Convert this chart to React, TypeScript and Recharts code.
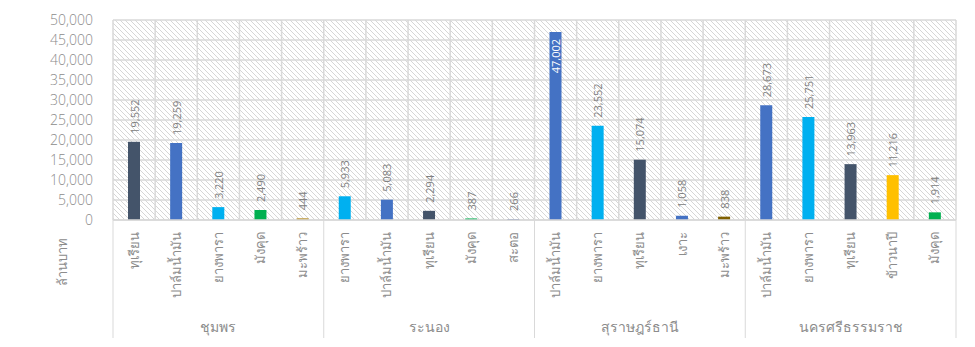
import { Bar, BarChart, CartesianGrid, Cell, LabelList, XAxis, YAxis } from "recharts";

const crops = [
  "ทุเรียน", "ปาล์มน้ำมัน", "ยางพารา", "มังคุด", "มะพร้าว",
  "ยางพารา", "ปาล์มน้ำมัน", "ทุเรียน", "มังคุด", "สะตอ",
  "ปาล์มน้ำมัน", "ยางพารา", "ทุเรียน", "เงาะ", "มะพร้าว",
  "ปาล์มน้ำมัน", "ยางพารา", "ทุเรียน", "ข้าวนาปี", "มังคุด",
];
const provinces = ["ชุมพร", "ระนอง", "สุราษฎร์ธานี", "นครศรีธรรมราช"];
const values = [
  19552, 19259, 3220, 2490, 444,
  5933, 5083, 2294, 387, 266,
  47002, 23552, 15074, 1058, 838,
  28673, 25751, 13963, 11216, 1914,
];
const yTicks = [0, 5000, 10000, 15000, 20000, 25000, 30000, 35000, 40000, 45000, 50000];
const unitLabel = "ล้านบาท";

const barColors = [
  "#44546A", "#4472C4", "#00B0F0", "#00B050", "#BF9A3F",
  "#00B0F0", "#4472C4", "#44546A", "#00B050", "#5B73B0",
  "#4472C4", "#00B0F0", "#44546A", "#4472C4", "#806000",
  "#4472C4", "#00B0F0", "#44546A", "#FFC000", "#00B050",
];

const W = 975;
const H = 347;
const LEFT = 113;
const RIGHT = 19;
const TOP = 20;
const XH = 127;
const PER_GROUP = 5;
const band = (W - LEFT - RIGHT) / values.length;
const grey = "#8C8C8C";
const gridColor = "#D9D9D9";
const numFont = "'Open Sans', 'Liberation Sans', sans-serif";

const rows = values.map((v, i) => ({ id: String(i), value: v }));

function CropTick(props: any) {
  const { x, payload } = props;
  const i = payload.index;
  const top = H - XH;
  const items = [];
  items.push(
    <text
      key="c"
      x={0}
      y={0}
      transform={`translate(${x},${top + 12}) rotate(-90)`}
      textAnchor="end"
      dominantBaseline="central"
      fontSize={13}
      fontWeight={300}
      fill={grey}
    >
      {crops[i]}
    </text>
  );
  if (i % PER_GROUP === 0) {
    items.push(
      <line key="s" x1={x - band / 2} x2={x - band / 2} y1={top} y2={top + 118} stroke={gridColor} />
    );
  }
  if (i === values.length - 1) {
    items.push(
      <line key="e" x1={x + band / 2} x2={x + band / 2} y1={top} y2={top + 118} stroke={gridColor} />
    );
  }
  if (i % PER_GROUP === 2) {
    items.push(
      <text key="p" x={x} y={top + 107} textAnchor="middle" dominantBaseline="central" fontSize={14} fontWeight={300} fill={grey}>
        {provinces[Math.floor(i / PER_GROUP)]}
      </text>
    );
  }
  return <g>{items}</g>;
}

function ValueLabel(props: any) {
  const { x, y, width, value } = props;
  const cx = x + width / 2;
  const txt = Number(value).toLocaleString("en-US");
  const inside = y < TOP + 30;
  return (
    <text
      transform={`translate(${cx},${inside ? y + 7 : y - 8}) rotate(-90)`}
      textAnchor={inside ? "end" : "start"}
      dominantBaseline="central"
      fontSize={11}
      fontFamily={numFont}
      fill={inside ? "#FFFFFF" : "#808080"}
    >
      {txt}
    </text>
  );
}

export default function App() {
  return (
    <div style={{ position: "absolute", left: 0, top: 0, fontFamily: "'Liberation Sans', 'Noto Sans', sans-serif" }}>
      <BarChart width={W} height={H} data={rows} margin={{ top: TOP, right: RIGHT, bottom: 0, left: 0 }}>
        <defs>
          <pattern id="hatch" patternUnits="userSpaceOnUse" width="5" height="5">
            <rect width="5" height="5" fill="#FFFFFF" />
            <path d="M-1,-1 L6,6 M-1,4 L1,6 M4,-1 L6,1" stroke="#D6D6D6" strokeWidth="1" />
          </pattern>
        </defs>
        <CartesianGrid
          fill="url(#hatch)"
          fillOpacity={1}
          stroke={gridColor}
          strokeWidth={1.5}
          verticalCoordinatesGenerator={({ offset }: any) =>
            Array.from({ length: values.length + 1 }, (_, i) => offset.left + i * band)
          }
        />
        <XAxis
          dataKey="id"
          height={XH}
          interval={0}
          tickLine={false}
          axisLine={{ stroke: gridColor, strokeWidth: 1.5 }}
          tick={<CropTick />}
        />
        <YAxis
          width={LEFT}
          domain={[0, 50000]}
          ticks={yTicks}
          interval={0}
          tickLine={false}
          axisLine={false}
          tickMargin={14}
          tick={{ fontSize: 14, fill: grey, fontFamily: numFont, fontWeight: 300 }}
          tickFormatter={(v: number) => v.toLocaleString("en-US")}
        />
        <Bar dataKey="value" barSize={12} isAnimationActive={false}>
          {rows.map((r, i) => (
            <Cell key={r.id} fill={barColors[i]} />
          ))}
          <LabelList dataKey="value" content={<ValueLabel />} />
        </Bar>
        <text
          transform="translate(62,262) rotate(-90)"
          textAnchor="middle"
          dominantBaseline="central"
          fontSize={13}
          fontWeight={300}
          fill={grey}
        >
          {unitLabel}
        </text>
      </BarChart>
    </div>
  );
}
